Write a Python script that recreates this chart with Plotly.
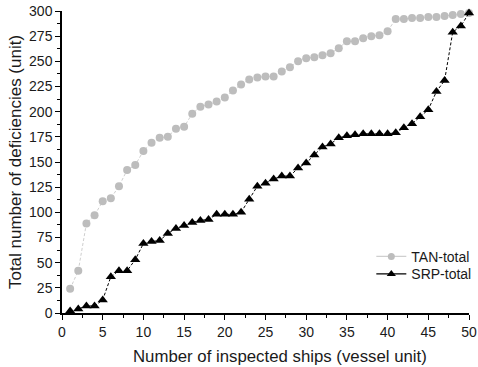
import plotly.graph_objects as go

ships = list(range(1, 51))

tan_total = [24, 42, 89, 97, 111, 114, 126, 142, 147, 161,
             169, 174, 175, 183, 185, 198, 205, 207, 210, 214,
             221, 227, 232, 234, 235, 235, 240, 244, 250, 253,
             254, 256, 258, 263, 270, 270, 273, 275, 276, 280,
             292, 292, 293, 293, 294, 294, 295, 296, 297, 298]

srp_total = [2, 4, 7, 7, 13, 36, 42, 42, 53, 69,
             71, 72, 79, 84, 87, 90, 92, 93, 98, 98,
             98, 100, 113, 126, 129, 133, 136, 136, 144, 149,
             157, 165, 168, 174, 176, 177, 178, 178, 178, 178,
             179, 184, 188, 195, 202, 220, 231, 279, 285, 298]

x_ticks = [0, 5, 10, 15, 20, 25, 30, 35, 40, 45, 50]
y_ticks = [0, 25, 50, 75, 100, 125, 150, 175, 200, 225, 250, 275, 300]

FONT = "Liberation Sans, Arial, sans-serif"
TEXT = "#1a1a1a"

series = [
    dict(name="TAN-total", y=tan_total, legend="legend",
         line_color="#cfcfcf", marker=dict(symbol="circle", size=8, color="#bdbdbd")),
    dict(name="SRP-total", y=srp_total, legend="legend2",
         line_color="#000000", marker=dict(symbol="triangle-up", size=9, color="#000000")),
]

fig = go.Figure()
for s in series:
    # data drawn with thin dashed connectors
    fig.add_trace(go.Scatter(
        x=ships, y=s["y"], name=s["name"], mode="lines+markers",
        line=dict(color=s["line_color"], width=1, dash="3px,2px"),
        marker=s["marker"], cliponaxis=False, showlegend=False,
    ))
    # legend key uses a solid line sample
    fig.add_trace(go.Scatter(
        x=[None], y=[None], name=s["name"], mode="lines+markers",
        line=dict(color=s["line_color"], width=1.2),
        marker=dict(s["marker"], size=s["marker"]["size"] - 1),
        legend=s["legend"], showlegend=True, hoverinfo="skip",
    ))

axis_common = dict(
    showgrid=False, zeroline=False, showline=True, linecolor="black",
    linewidth=1.5, ticks="outside", ticklen=5, tickwidth=1.2,
    tickcolor="black", tickfont=dict(family=FONT, size=14, color=TEXT),
)

fig.update_xaxes(
    range=[0, 50], tickvals=x_ticks,
    minor=dict(dtick=2.5, ticks="outside", ticklen=3, tickcolor="black"),
    **axis_common,
)
fig.update_yaxes(
    range=[0, 300], tickvals=y_ticks,
    title_text="Total number of deficiencies (unit)", title_standoff=3,
    title_font=dict(family=FONT, size=17, color=TEXT),
    minor=dict(dtick=12.5, ticks="outside", ticklen=3, tickcolor="black"),
    **axis_common,
)

legend_style = dict(
    xanchor="left", yanchor="middle",
    bgcolor="rgba(0,0,0,0)", font=dict(family=FONT, size=14, color=TEXT),
    itemwidth=30,
)

fig.update_layout(
    width=478, height=367,
    margin=dict(l=62, r=9, t=11, b=54, autoexpand=False),
    paper_bgcolor="white", plot_bgcolor="white",
    showlegend=True,
    legend=dict(x=0.76, y=0.186, **legend_style),
    legend2=dict(x=0.76, y=0.128, **legend_style),
    annotations=[dict(
        text="Number of inspected ships (vessel unit)",
        xref="paper", yref="paper", x=0.535, y=-0.143,
        xanchor="center", yanchor="middle", showarrow=False,
        font=dict(family=FONT, size=16.8, color=TEXT),
    )],
)

fig.write_html("out.html")
